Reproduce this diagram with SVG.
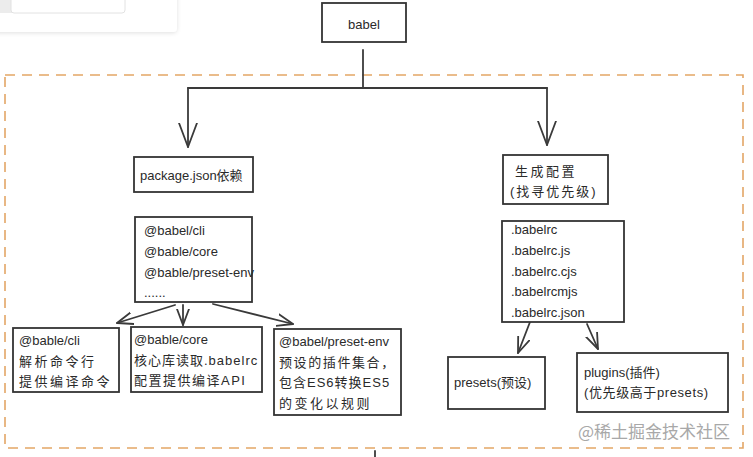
<svg xmlns="http://www.w3.org/2000/svg" width="753" height="457" viewBox="0 0 753 457">
<defs>
<style>
.box{fill:#fff;stroke:#333;stroke-width:1.8}
.t{font-family:"Liberation Sans","Noto Sans CJK SC",sans-serif;font-size:13px;fill:#2a2a2a}
.c{letter-spacing:2.5px}
.ln{fill:none;stroke:#3a3a3a;stroke-width:1.8;stroke-linecap:round}
.dash{fill:none;stroke:#e3a666;stroke-width:1.6;stroke-dasharray:10 7}
</style>
<filter id="sh" x="-20%" y="-50%" width="140%" height="200%"><feDropShadow dx="0" dy="1" stdDeviation="2" flood-color="#000" flood-opacity="0.12"/></filter>
<marker id="big" markerUnits="userSpaceOnUse" markerWidth="26" markerHeight="22" refX="24" refY="10" orient="auto" viewBox="0 0 26 22"><path d="M0,1 L24,10 L0,19" fill="none" stroke="#3a3a3a" stroke-width="1.8" stroke-linecap="round" stroke-linejoin="round"/></marker>
<marker id="sm" markerUnits="userSpaceOnUse" markerWidth="18" markerHeight="16" refX="16" refY="7" orient="auto" viewBox="0 0 18 16"><path d="M0,1 L16,7 L0,13" fill="none" stroke="#3a3a3a" stroke-width="1.8" stroke-linecap="round" stroke-linejoin="round"/></marker>
</defs>
<rect width="753" height="457" fill="#fff"/>
<g id="ui-card">
<rect x="-10" y="-10" width="187" height="42" rx="4" fill="#fff" filter="url(#sh)"/>
<rect x="0" y="-10" width="14" height="23" fill="#ececec"/>
<rect x="11" y="-10" width="114" height="23" rx="3" fill="#fff" stroke="#e2e2e2" stroke-width="1"/>
</g>
<rect id="frame" class="dash" x="5" y="75" width="738" height="373"/>
<g id="connectors">
<path class="ln" d="M363,50 V88"/>
<path class="ln" d="M188,88 H547"/>
<path class="ln" d="M188,88 V147" marker-end="url(#big)"/>
<path class="ln" d="M547,88 V145" marker-end="url(#big)"/>
<path class="ln" d="M175,305 L117,323" marker-end="url(#sm)"/>
<path class="ln" d="M183,305 V325" marker-end="url(#sm)"/>
<path class="ln" d="M213,304 L293,324" marker-end="url(#sm)"/>
<path class="ln" d="M530,322 L518,353" marker-end="url(#sm)"/>
<path class="ln" d="M587,324 L598,349" marker-end="url(#sm)"/>
<path class="ln" d="M375,451 V457"/>
</g>
<g id="babel"><rect class="box" x="322" y="3" width="84" height="39"/><text class="t" x="364" y="29" text-anchor="middle">babel</text></g>
<g id="package-json"><rect class="box" x="134" y="157" width="119" height="35"/><text class="t" x="140" y="180">package.json依赖</text></g>
<g id="deps-list"><rect class="box" x="135" y="217" width="117" height="85"/>
<text class="t" x="144" y="235">@babel/cli</text>
<text class="t" x="144" y="256">@bable/core</text>
<text class="t" x="144" y="277">@bable/preset-env</text>
<text class="t" x="144" y="297">......</text></g>
<g id="cli"><rect class="box" x="13" y="328" width="106" height="64"/>
<text class="t" x="19" y="345">@bable/cli</text>
<text class="t c" x="19" y="366">解析命令行</text>
<text class="t c" x="19" y="386">提供编译命令</text></g>
<g id="core"><rect class="box" x="131" y="327" width="131" height="65"/>
<text class="t" x="134" y="344">@bable/core</text>
<text class="t" x="134" y="365" letter-spacing="1">核心库读取.babelrc</text>
<text class="t" x="134" y="385" letter-spacing="1.5">配置提供编译API</text></g>
<g id="preset-env"><rect class="box" x="274" y="329" width="127" height="86"/>
<text class="t" x="279" y="346">@babel/preset-env</text>
<text class="t" x="279" y="367" letter-spacing="1.6">预设的插件集合，</text>
<text class="t" x="279" y="387" letter-spacing="1">包含ES6转换ES5</text>
<text class="t c" x="279" y="408">的变化以规则</text></g>
<g id="config"><rect class="box" x="503" y="155" width="105" height="49"/>
<text class="t c" x="515" y="176">生成配置</text>
<text class="t" x="510" y="196" letter-spacing="2">(找寻优先级)</text></g>
<g id="rc-list"><rect class="box" x="502" y="221" width="122" height="101"/>
<text class="t" x="511" y="234">.babelrc</text>
<text class="t" x="511" y="255">.babelrc.js</text>
<text class="t" x="511" y="276">.babelrc.cjs</text>
<text class="t" x="511" y="296">.babelrcmjs</text>
<text class="t" x="511" y="317">.babelrc.json</text></g>
<g id="presets"><rect class="box" x="448" y="357" width="97" height="52"/><text class="t" x="454" y="387">presets(预设)</text></g>
<g id="plugins"><rect class="box" x="577" y="353" width="151" height="59"/>
<text class="t" x="584" y="377">plugins(插件)</text>
<text class="t" x="584" y="397" letter-spacing="0.6">(优先级高于presets)</text></g>
<text x="578" y="438" font-family="'Noto Sans CJK SC','Liberation Sans',sans-serif" font-size="17" fill="#a8a8a8">@稀土掘金技术社区</text>
</svg>
